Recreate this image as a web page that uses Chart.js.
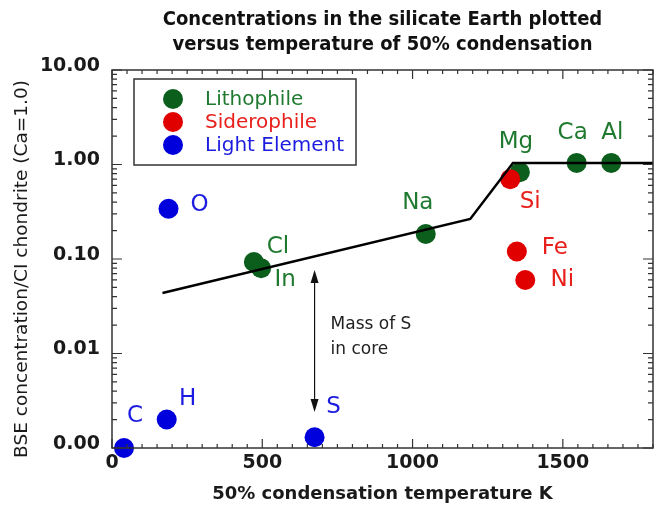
<!DOCTYPE html>
<html>
<head>
<meta charset="utf-8">
<script src="https://cdn.jsdelivr.net/npm/chart.js@4.4.1/dist/chart.umd.min.js"></script>
<style>
  html, body { margin: 0; background: #fff; }
  #wrap { width: 663px; height: 511px; }
</style>
</head>
<body>
<div id="wrap"><canvas id="chart"></canvas></div>
<script>
// element data: 50% condensation temperature (K) and BSE/CI concentration
const lithoNames = ['Cl', 'In', 'Na', 'Mg', 'Ca', 'Al'];
const lithoTemp = [472, 496, 1044, 1357, 1546, 1661];
const lithoConc = [0.093, 0.080, 0.184, 0.83, 1.04, 1.04];

const sideroNames = ['Si', 'Fe', 'Ni'];
const sideroTemp = [1325, 1347, 1375];
const sideroConc = [0.70, 0.12, 0.060];

const lightNames = ['O', 'C', 'H', 'S'];
const lightTemp = [188, 40, 182, 674];
const lightConc = [0.34, 0.001, 0.002, 0.0013];

// volatility trend line
const trendTemp = [168, 1192, 1334, 1800];
const trendConc = [0.0437, 0.265, 1.04, 1.04];

// "mass of S in core" arrow
const arrowTemp = 674;
const arrowConc = [0.0765, 0.0024];

const xTicks = [0, 500, 1000, 1500];
const yTicks = [0.001, 0.01, 0.1, 1, 10];

// label placement (px from the dot centre)
const labelOffsets = {
  O: [31, -4], Cl: [24, -15], In: [24, 12], C: [11, -32], H: [21, -21], S: [19, -30],
  Na: [-8, -31], Mg: [-4, -30], Si: [20, 23], Ca: [-4, -30], Al: [1, -30],
  Fe: [38, -3], Ni: [37, 0]
};

const green = '#0b5e1c', red = '#e00000', blue = '#0000dc';
const greenText = '#1f7a30', redText = '#e8201c', blueText = '#1c1ce0';

const pts = (xs, ys) => xs.map((x, i) => ({ x: x, y: ys[i] }));

Chart.defaults.font.family = 'DejaVu Sans';

const decor = {
  id: 'decor',
  afterDatasetsDraw(chart) {
    const ctx = chart.ctx;
    const xs = chart.scales.x, ys = chart.scales.y;

    // arrow
    const ax = xs.getPixelForValue(arrowTemp);
    const y1 = ys.getPixelForValue(arrowConc[0]);
    const y2 = ys.getPixelForValue(arrowConc[1]);
    ctx.save();
    ctx.strokeStyle = '#111';
    ctx.fillStyle = '#111';
    ctx.lineWidth = 1.2;
    ctx.beginPath();
    ctx.moveTo(ax, y1 + 6);
    ctx.lineTo(ax, y2 - 6);
    ctx.stroke();
    [[y1, 1], [y2, -1]].forEach(([y, d]) => {
      ctx.beginPath();
      ctx.moveTo(ax, y);
      ctx.lineTo(ax - 4, y + d * 13);
      ctx.lineTo(ax + 4, y + d * 13);
      ctx.closePath();
      ctx.fill();
    });
    ctx.font = '17px DejaVu Sans';
    ctx.textAlign = 'left';
    ctx.textBaseline = 'middle';
    ctx.fillStyle = '#222';
    ctx.fillText('Mass of S', ax + 16, 325);
    ctx.fillText('in core', ax + 16, 350);

    // element labels
    ctx.font = '23px DejaVu Sans';
    ctx.textAlign = 'center';
    const groups = [[lithoNames, lithoTemp, lithoConc, greenText],
                    [sideroNames, sideroTemp, sideroConc, redText],
                    [lightNames, lightTemp, lightConc, blueText]];
    groups.forEach(([names, tx, cy, col]) => {
      ctx.fillStyle = col;
      names.forEach((n, i) => {
        const o = labelOffsets[n];
        ctx.fillText(n, xs.getPixelForValue(tx[i]) + o[0], ys.getPixelForValue(cy[i]) + o[1]);
      });
    });
    ctx.restore();
  },
  afterDraw(chart) {
    const ctx = chart.ctx;
    const a = chart.chartArea;
    const xs = chart.scales.x, ys = chart.scales.y;
    ctx.save();
    ctx.strokeStyle = '#333';
    ctx.lineWidth = 1.5;
    ctx.strokeRect(a.left, a.top, a.right - a.left, a.bottom - a.top);

    // inward ticks on all four sides
    ctx.lineWidth = 1.2;
    ctx.beginPath();
    for (let v = 0; v <= 1800; v += 50) {
      const px = xs.getPixelForValue(v);
      const len = v % 500 === 0 ? 9 : 4;
      ctx.moveTo(px, a.bottom); ctx.lineTo(px, a.bottom - len);
      ctx.moveTo(px, a.top); ctx.lineTo(px, a.top + len);
    }
    for (let e = -3; e < 1; e++) {
      for (let m = 1; m <= 10; m++) {
        const py = ys.getPixelForValue(m * Math.pow(10, e));
        const len = (m === 1 || m === 10) ? 10 : 5;
        ctx.moveTo(a.left, py); ctx.lineTo(a.left + len, py);
        ctx.moveTo(a.right, py); ctx.lineTo(a.right - len, py);
      }
    }
    ctx.stroke();

    // y axis title
    ctx.save();
    ctx.translate(22, (a.top + a.bottom) / 2 + 10);
    ctx.rotate(-Math.PI / 2);
    ctx.font = '18.5px DejaVu Sans';
    ctx.fillStyle = '#1a1a1a';
    ctx.textAlign = 'center';
    ctx.textBaseline = 'middle';
    ctx.fillText('BSE concentration/CI chondrite (Ca=1.0)', 0, 0);
    ctx.restore();

    // legend box
    const lx = a.left + 22, ly = a.top + 9;
    ctx.lineWidth = 1.5;
    ctx.strokeRect(lx, ly, 222, 86);
    ctx.font = '20px DejaVu Sans';
    ctx.textAlign = 'left';
    ctx.textBaseline = 'middle';
    chart.data.datasets.filter(d => d.legendText).sort((p, q) => p.legendPos - q.legendPos)
      .forEach((d, i) => {
        const y = ly + 20 + i * 23;
        ctx.fillStyle = d.backgroundColor;
        ctx.beginPath();
        ctx.arc(lx + 39, y, 10, 0, Math.PI * 2);
        ctx.fill();
        ctx.fillStyle = d.legendText;
        ctx.fillText(d.label, lx + 71, y + 1);
      });
    ctx.restore();
  }
};

new Chart(document.getElementById('chart'), {
  type: 'scatter',
  data: {
    datasets: [
      {
        type: 'line',
        label: 'trend',
        data: pts(trendTemp, trendConc),
        borderColor: '#000',
        borderWidth: 2.5,
        pointRadius: 0,
        fill: false,
        order: 0
      },
      {
        label: 'Siderophile',
        data: pts(sideroTemp, sideroConc),
        backgroundColor: red,
        legendText: redText,
        legendPos: 1,
        pointRadius: 10,
        borderWidth: 0,
        order: 1
      },
      {
        label: 'Lithophile',
        data: pts(lithoTemp, lithoConc),
        backgroundColor: green,
        legendText: greenText,
        legendPos: 0,
        pointRadius: 10,
        borderWidth: 0,
        order: 2
      },
      {
        label: 'Light Element',
        data: pts(lightTemp, lightConc),
        backgroundColor: blue,
        legendText: blueText,
        legendPos: 2,
        pointRadius: 10,
        borderWidth: 0,
        clip: false,
        order: 3
      }
    ]
  },
  options: {
    responsive: true,
    maintainAspectRatio: false,
    animation: false,
    events: [],
    layout: { padding: { left: 0, right: 6, top: 0, bottom: 0 } },
    plugins: {
      legend: { display: false },
      tooltip: { enabled: false },
      title: {
        display: true,
        fullSize: false,
        text: ['Concentrations in the silicate Earth plotted', 'versus temperature of 50% condensation'],
        color: '#111',
        font: { family: 'DejaVu Sans Condensed', size: 20, weight: 'bold', lineHeight: 1.25 },
        padding: { top: 7, bottom: 13 }
      }
    },
    scales: {
      x: {
        type: 'linear',
        min: 0,
        max: 1800,
        grid: { display: false, drawTicks: false, tickLength: 0 },
        border: { display: false },
        afterBuildTicks: s => { s.ticks = xTicks.map(v => ({ value: v })); },
        afterFit: s => { s.height = 63; },
        ticks: {
          autoSkip: false,
          maxRotation: 0,
          padding: 4,
          color: '#1a1a1a',
          font: { size: 19, weight: 'bold' },
          callback: v => String(v)
        },
        title: {
          display: true,
          text: '50% condensation temperature K',
          color: '#1a1a1a',
          font: { size: 18, weight: 'bold' },
          padding: { top: 1, bottom: 6 }
        }
      },
      y: {
        type: 'logarithmic',
        min: 0.001,
        max: 10,
        grid: { display: false, drawTicks: false, tickLength: 0 },
        border: { display: false },
        afterBuildTicks: s => { s.ticks = yTicks.map(v => ({ value: v, major: true })); },
        afterFit: s => { s.width = 112; },
        ticks: {
          autoSkip: false,
          padding: 12,
          labelOffset: -4,
          color: '#1a1a1a',
          font: { size: 19, weight: 'bold' },
          callback: v => Number(v).toFixed(2)
        },
        title: { display: false }
      }
    }
  },
  plugins: [decor]
});
</script>
</body>
</html>
